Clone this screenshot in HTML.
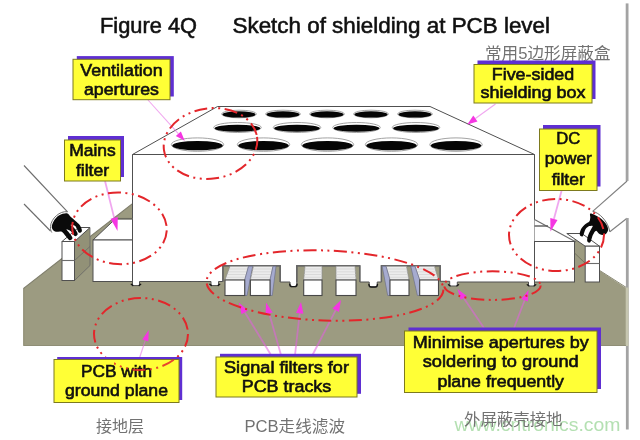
<!DOCTYPE html>
<html lang="en">
<head>
<meta charset="utf-8">
<title>Figure 4Q Sketch of shielding at PCB level</title>
<style>
html,body{margin:0;padding:0;background:#fff;}
body{width:640px;height:440px;overflow:hidden;position:relative;}
svg{display:block;position:absolute;left:0;top:0;filter:blur(.45px);}
.lab{font-family:"Liberation Sans",sans-serif;font-size:16.4px;fill:#101010;stroke:#101010;stroke-width:.6px;text-anchor:middle;}
.title{font-family:"Liberation Sans",sans-serif;font-size:21.5px;fill:#101010;stroke:#101010;stroke-width:.55px;}
.cn{font-family:"Liberation Sans","Noto Sans CJK SC",sans-serif;font-size:16.3px;fill:#727272;}
.wm{font-family:"Liberation Sans",sans-serif;font-size:19px;fill:#b4e0b2;}
.yl{fill:#ffff36;stroke:#7d7a1e;stroke-width:1;}
.sh{fill:#5f2fd2;}
.red{fill:none;stroke:#e3262b;stroke-width:2;stroke-dasharray:13 4.5 2 4.5 2 4.5;stroke-linecap:butt;}
.ml{stroke:#e45fe2;stroke-opacity:.55;stroke-width:1.8;fill:none;}
.mh{fill:#f536e2;stroke:none;}
.gl{stroke:#6c6c6c;stroke-width:1.1;fill:none;}
.bx{fill:#fff;stroke:#505050;stroke-width:1;stroke-linejoin:miter;}
.hole{fill:#050505;}
.rim{fill:#fff;stroke:#8a8a8a;stroke-width:.8;}
.pcb{fill:#9c9b81;}
.blk{fill:#fff;stroke:#484848;stroke-width:1.1;}
.top{fill:#ececec;stroke:#8c8c8c;stroke-width:.7;}
.side{fill:#a6abcf;stroke:#666a88;stroke-width:.6;}
.sol{fill:none;stroke:#161616;stroke-width:1.4;stroke-linecap:round;stroke-linejoin:round;}
</style>
</head>
<body>
<svg width="640" height="440" viewBox="0 0 640 440">
<rect x="0" y="0" width="640" height="440" fill="#fff"/>
<!-- ===== title ===== -->
<text class="title" x="100" y="33" textLength="97" lengthAdjust="spacingAndGlyphs">Figure 4Q</text>
<text class="title" x="232.5" y="33" textLength="317.5" lengthAdjust="spacingAndGlyphs">Sketch of shielding at PCB level</text>
<text class="cn" x="485" y="58.5" textLength="125.5" lengthAdjust="spacingAndGlyphs">常用5边形屏蔽盒</text>
<!-- ===== right wall / cable lines ===== -->
<g id="rightwall">
<path d="M627.100,3.400 V181" stroke="#a3a3a3" stroke-width="2.800" fill="none"/>
<path d="M627.100,181 L592.700,211.400" stroke="#7e7e7e" stroke-width="1.1" fill="none"/>
<path d="M609.800,231.800 L627,218.200" stroke="#7e7e7e" stroke-width="1.1" fill="none"/>
<path d="M627.300,218 V429.500" stroke="#a3a3a3" stroke-width="2.800" fill="none"/>
</g>
<!-- ===== PCB ===== -->
<g id="pcb">
<polygon class="pcb" points="23.3,346 23.3,288.800 132.5,203.800 140,203.800 140,346"/>
<polygon class="pcb" points="132.5,262 574.5,262 574.5,238.5 585.5,245.5 585.5,262 598.6,270 626,288 626,346 132.5,346"/>
<rect x="625.700" y="287.500" width="2.900" height="58.500" fill="#c6c6b0"/>
<path d="M23.300,288.600 L132.500,203.600" fill="none" stroke="#7d7c69" stroke-width="1.200"/>
<path d="M598.600,269.800 L626,287.300" fill="none" stroke="#8a8974" stroke-width="1"/>
<path d="M23.800,288.800 V345.500 H626" fill="none" stroke="#8f8e76" stroke-width="1"/>
</g>
<!-- ===== left cable ===== -->
<g id="leftcable">
<path class="gl" d="M24,165.500 L67.500,211.800"/>
<path class="gl" d="M24,204 L50.500,231"/>
</g>
<!-- ===== shielding box ===== -->
<g id="box">
<polygon class="bx" points="132.5,154.5 217.5,106.5 430,106.5 534.5,154.5"/>
<path class="bx" d="M132.5,154.5 L534.5,154.5 L534.5,286 L528.5,286 L528.5,282 L457.3,282 L457.3,286 L449.7,286 L449.7,281.3 L440.2,281.3 L440.2,265.8 L381.4,265.8 L381.4,282 L377.2,282 L377.2,287 L369.2,287 L369.2,282 L359.8,282 L359.8,265.8 L296.8,265.8 L296.8,286.6 L290,286.6 L290,282 L280.2,282 L280.2,265.8 L222.9,265.8 L222.9,281.5 L218.5,281.5 L218.5,285.6 L211,285.6 L211,281.5 L139.5,281.5 L139.5,285.6 L132.5,285.6 Z"/>
<path class="sol" d="M131.3,284.3 L132.8,285.40000000000003"/><path class="sol" d="M140.7,284.3 L139.2,285.40000000000003"/>
<path class="sol" d="M209.8,284.3 L211.3,285.40000000000003"/><path class="sol" d="M219.7,284.3 L218.2,285.40000000000003"/>
<path class="sol" d="M448.5,284.7 L450.0,285.8"/><path class="sol" d="M458.5,284.7 L457.0,285.8"/>
<path class="sol" d="M527.3,284.7 L528.8,285.8"/><path class="sol" d="M535.7,284.7 L534.2,285.8"/>
<path class="sol" d="M289.7,284.1 Q290,286.6 292.2,286.6 L294.6,286.6 Q296.8,286.6 297.1,284.1"/>
<path class="sol" d="M368.9,284.5 Q369.2,287 371.4,287 L375.0,287 Q377.2,287 377.5,284.5"/>
<path d="M222.900,281.500 V265.800 H280.200 V282 M296.800,282 V265.800 H359.800 V282 M381.400,282 V265.800 H440.200 V281.300" fill="none" stroke="#666" stroke-width="1.500"/>
</g>
<!-- ===== ventilation holes ===== -->
<g id="holes">
<ellipse class="rim" cx="239" cy="114" rx="17.5" ry="3.8"/><ellipse class="hole" cx="239" cy="114.45" rx="16.6" ry="3.10"/>
<ellipse class="rim" cx="283" cy="114" rx="17.5" ry="3.8"/><ellipse class="hole" cx="283" cy="114.45" rx="16.6" ry="3.10"/>
<ellipse class="rim" cx="327" cy="114" rx="17.5" ry="3.8"/><ellipse class="hole" cx="327" cy="114.45" rx="16.6" ry="3.10"/>
<ellipse class="rim" cx="371" cy="114" rx="17.5" ry="3.8"/><ellipse class="hole" cx="371" cy="114.45" rx="16.6" ry="3.10"/>
<ellipse class="rim" cx="415" cy="114" rx="17.5" ry="3.8"/><ellipse class="hole" cx="415" cy="114.45" rx="16.6" ry="3.10"/>
<ellipse class="rim" cx="237.5" cy="127.5" rx="23.75" ry="5"/><ellipse class="hole" cx="237.5" cy="128.25" rx="22.85" ry="3.60"/>
<ellipse class="rim" cx="297" cy="127.5" rx="23.75" ry="5"/><ellipse class="hole" cx="297" cy="128.25" rx="22.85" ry="3.60"/>
<ellipse class="rim" cx="356.5" cy="127.5" rx="23.75" ry="5"/><ellipse class="hole" cx="356.5" cy="128.25" rx="22.85" ry="3.60"/>
<ellipse class="rim" cx="416" cy="127.5" rx="23.75" ry="5"/><ellipse class="hole" cx="416" cy="128.25" rx="22.85" ry="3.60"/>
<ellipse class="rim" cx="197.5" cy="144.6" rx="26.2" ry="6.7"/><ellipse class="hole" cx="197.5" cy="145.60" rx="25.3" ry="4.70"/>
<ellipse class="rim" cx="263.5" cy="144.6" rx="26.2" ry="6.7"/><ellipse class="hole" cx="263.5" cy="145.60" rx="25.3" ry="4.70"/>
<ellipse class="rim" cx="327.5" cy="144.6" rx="26.2" ry="6.7"/><ellipse class="hole" cx="327.5" cy="145.60" rx="25.3" ry="4.70"/>
<ellipse class="rim" cx="391.5" cy="144.6" rx="26.2" ry="6.7"/><ellipse class="hole" cx="391.5" cy="145.60" rx="25.3" ry="4.70"/>
<ellipse class="rim" cx="456" cy="144.6" rx="26.2" ry="6.7"/><ellipse class="hole" cx="456" cy="145.60" rx="25.3" ry="4.70"/>
</g>
<!-- ===== signal filter blocks ===== -->
<g id="filters">
<polygon class="top" points="225,280 230,266.3 248.5,266.3 244.7,280"/><line x1="229.0" y1="269.0" x2="247.7" y2="269.0" stroke="#cfcfcf" stroke-width=".6"/><line x1="228.0" y1="271.8" x2="247.0" y2="271.8" stroke="#cfcfcf" stroke-width=".6"/><line x1="227.0" y1="274.5" x2="246.2" y2="274.5" stroke="#cfcfcf" stroke-width=".6"/><line x1="226.0" y1="277.3" x2="245.5" y2="277.3" stroke="#cfcfcf" stroke-width=".6"/><polygon class="side" points="244.7,280 248.5,266.3 252.7,266.3 247.0,295.5 244.7,295.5"/><rect class="blk" x="225" y="280" width="19.69999999999999" height="15.5"/>
<polygon class="top" points="250.4,280 253.4,266.3 273,266.3 270,280"/><line x1="252.8" y1="269.0" x2="272.4" y2="269.0" stroke="#cfcfcf" stroke-width=".6"/><line x1="252.2" y1="271.8" x2="271.8" y2="271.8" stroke="#cfcfcf" stroke-width=".6"/><line x1="251.6" y1="274.5" x2="271.2" y2="274.5" stroke="#cfcfcf" stroke-width=".6"/><line x1="251.0" y1="277.3" x2="270.6" y2="277.3" stroke="#cfcfcf" stroke-width=".6"/><polygon class="side" points="270,280 273,266.3 276,266.3 272.3,295.5 270,295.5"/><rect class="blk" x="250.4" y="280" width="19.599999999999994" height="15.5"/>
<polygon class="top" points="303.7,280 305,266.3 322,266.3 322,280"/><line x1="304.7" y1="269.0" x2="322.0" y2="269.0" stroke="#cfcfcf" stroke-width=".6"/><line x1="304.5" y1="271.8" x2="322.0" y2="271.8" stroke="#cfcfcf" stroke-width=".6"/><line x1="304.2" y1="274.5" x2="322.0" y2="274.5" stroke="#cfcfcf" stroke-width=".6"/><line x1="304.0" y1="277.3" x2="322.0" y2="277.3" stroke="#cfcfcf" stroke-width=".6"/><rect class="blk" x="303.7" y="280" width="18.30000000000001" height="15.5"/>
<polygon class="top" points="336,280 336,266.3 355,266.3 356,280"/><line x1="336.0" y1="269.0" x2="355.2" y2="269.0" stroke="#cfcfcf" stroke-width=".6"/><line x1="336.0" y1="271.8" x2="355.4" y2="271.8" stroke="#cfcfcf" stroke-width=".6"/><line x1="336.0" y1="274.5" x2="355.6" y2="274.5" stroke="#cfcfcf" stroke-width=".6"/><line x1="336.0" y1="277.3" x2="355.8" y2="277.3" stroke="#cfcfcf" stroke-width=".6"/><rect class="blk" x="336" y="280" width="20" height="15.5"/>
<polygon class="top" points="390,280 386,266.3 406.5,266.3 409,280"/><line x1="386.8" y1="269.0" x2="407.0" y2="269.0" stroke="#cfcfcf" stroke-width=".6"/><line x1="387.6" y1="271.8" x2="407.5" y2="271.8" stroke="#cfcfcf" stroke-width=".6"/><line x1="388.4" y1="274.5" x2="408.0" y2="274.5" stroke="#cfcfcf" stroke-width=".6"/><line x1="389.2" y1="277.3" x2="408.5" y2="277.3" stroke="#cfcfcf" stroke-width=".6"/><polygon class="side" points="390,280 386,266.3 382.2,266.3 387.7,295.5 390,295.5"/><rect class="blk" x="390" y="280" width="19" height="15.5"/>
<polygon class="top" points="419.7,280 415,266.3 434.5,266.3 438.5,280"/><line x1="415.9" y1="269.0" x2="435.3" y2="269.0" stroke="#cfcfcf" stroke-width=".6"/><line x1="416.9" y1="271.8" x2="436.1" y2="271.8" stroke="#cfcfcf" stroke-width=".6"/><line x1="417.8" y1="274.5" x2="436.9" y2="274.5" stroke="#cfcfcf" stroke-width=".6"/><line x1="418.8" y1="277.3" x2="437.7" y2="277.3" stroke="#cfcfcf" stroke-width=".6"/><polygon class="side" points="419.7,280 415,266.3 410.8,266.3 417.4,295.5 419.7,295.5"/><rect class="blk" x="419.7" y="280" width="18.80000000000001" height="15.5"/>
</g>
<!-- ===== mains filter (left) ===== -->
<g id="mains">
<polygon class="bx" points="93,240 115.5,218.75 132.5,218.75 132.5,240"/>
<line x1="115" y1="218.750" x2="132.500" y2="218.750" stroke="#6a6a5e" stroke-width="1.600"/>
<rect class="bx" x="93" y="240" width="39.5" height="41.5"/>
<!-- connector block -->
<polygon points="74.5,241.5 90,227.5 90,265.5 74.5,280.5" fill="#929177" stroke="#666" stroke-width=".8"/>
<polygon class="bx" points="62,241.5 78.5,227.5 90,227.5 74.5,241.5"/>
<rect class="bx" x="62" y="241.5" width="12.5" height="39"/>
<line class="gl" x1="62" y1="260.5" x2="74.5" y2="260.5"/>
<line x1="74.5" y1="260.5" x2="90" y2="246.500" stroke="#666" stroke-width=".7"/>
<!-- cable end -->
<path d="M67.5,211.8 C60,210.5 51,218.500 50.500,226.500 C50.300,229 50.800,231 51.800,232.500" fill="none" stroke="#6f6f6f" stroke-width="1"/>
<path d="M66.8,213.2 C64.9,212.9 61.4,213.9 59.3,215.2 C57.1,216.4 55.1,218.6 53.9,220.700 C52.6,222.8 51.6,225.700 51.8,227.500 C52.0,229.3 53.6,230.9 55.2,231.6 C56.8,232.3 59.6,230.9 61.3,231.6 C63.0,232.3 64.0,234.3 65.4,235.700 C66.8,237.1 68.3,239.8 69.5,240.2 C70.700,240.6 72.5,239.2 72.5,238.0 C72.5,236.8 70.3,234.3 69.3,232.9 C68.3,231.5 66.2,229.6 66.5,229.3 C66.8,229.0 69.5,230.2 70.9,231.3 C72.3,232.4 73.6,235.700 74.700,236.1 C75.8,236.5 77.700,235.2 77.700,233.9 C77.700,232.6 75.8,229.9 74.6,228.4 C73.4,226.9 70.5,225.4 70.6,225.0 C70.700,224.6 73.8,224.8 75.2,226.1 C76.6,227.3 77.700,231.700 78.8,232.5 C79.9,233.3 81.700,232.1 81.9,230.9 C82.1,229.700 81.0,226.9 79.9,225.2 C78.8,223.5 76.700,222.1 75.2,220.700 C73.700,219.3 72.3,218.2 70.9,217.0 C69.5,215.8 68.700,213.5 66.8,213.2 Z" fill="#0a0a0a"/>
</g>

<!-- ===== DC power filter (right) ===== -->
<g id="dc">
<polygon points="534.5,219.5 575,241.5 534.5,241.5" fill="#fff"/>
<line class="gl" x1="534.5" y1="219.500" x2="576" y2="242"/>
<line x1="534.5" y1="226" x2="548" y2="226" stroke="#5a5a5a" stroke-width="1.400"/>
<rect class="bx" x="534.5" y="241.5" width="40" height="40.5"/>
<line x1="574.5" y1="253" x2="585.5" y2="263.500" stroke="#6b6a55" stroke-width=".8"/>
<polygon class="bx" points="566.8,233.5 581.8,233.5 599.5,246.2 585.2,246.2"/>
<rect class="bx" x="585.2" y="246.2" width="14.3" height="35.8"/>
<line class="gl" x1="585.2" y1="263.5" x2="599.5" y2="263.5"/>
<!-- cable end -->
<path d="M592.700,211.400 C599,212.500 608,221 609.800,231.800" fill="none" stroke="#6f6f6f" stroke-width="1"/>
<path d="M590.700,213.4 C592.2,213.4 596.9,215.700 599.5,217.5 C602.1,219.3 604.9,222.2 606.3,224.3 C607.700,226.5 608.3,228.700 608.0,230.4 C607.700,232.2 605.700,234.2 604.3,234.8 C602.9,235.4 600.9,234.8 599.5,234.1 C598.1,233.4 597.2,230.6 596.1,230.700 C595.0,230.8 594.0,232.9 593.0,234.8 C592.0,236.700 591.2,241.2 590.3,242.3 C589.3,243.4 587.700,242.4 587.3,241.3 C586.9,240.2 587.3,237.8 587.9,235.9 C588.5,234.0 589.9,231.6 590.700,230.0 C591.5,228.4 592.9,226.8 592.700,226.1 C592.5,225.4 590.5,225.6 589.3,226.1 C588.1,226.6 586.6,227.6 585.5,229.3 C584.4,231.0 583.8,235.3 582.8,236.2 C581.8,237.1 580.1,236.0 579.8,234.8 C579.5,233.6 580.2,230.8 581.1,229.1 C582.0,227.3 583.8,225.6 585.2,224.3 C586.6,223.1 588.4,222.700 589.3,221.6 C590.1,220.5 590.1,218.9 590.3,217.5 C590.5,216.1 589.2,213.4 590.700,213.4 Z" fill="#0a0a0a"/>
</g>
<!-- ===== magenta arrows ===== -->
<g id="arrows">
<line class="ml" style="stroke-width:1.1" x1="148" y1="100" x2="178.3" y2="133.7"/><polygon class="mh" points="184.7,140.8 175.8,136.0 180.9,131.5"/>
<line class="ml" style="stroke-width:1.1" x1="495.5" y1="104" x2="475.4" y2="118.5"/><polygon class="mh" points="467.3,124.4 473.3,115.6 477.5,121.5"/>
<line class="ml" x1="105" y1="181" x2="114.2" y2="217.9"/><polygon class="mh" points="117.5,231 110.6,218.8 117.8,217.0"/>
<line class="ml" x1="561.5" y1="191" x2="553.9" y2="219.0"/><polygon class="mh" points="550.5,231.5 550.3,218.0 557.5,219.9"/>
<line class="ml" style="stroke-width:1.2" x1="139.5" y1="358" x2="145.3" y2="340.4"/><polygon class="mh" points="148.75,330 148.3,341.4 142.3,339.4"/>
<line class="ml" x1="271" y1="355" x2="244.8" y2="312.3"/><polygon class="mh" points="238.75,302.5 247.9,310.4 241.6,314.2"/>
<line class="ml" x1="281" y1="355" x2="269.2" y2="313.6"/><polygon class="mh" points="266,302.5 272.7,312.5 265.6,314.6"/>
<line class="ml" x1="295" y1="355" x2="299.7" y2="313.4"/><polygon class="mh" points="301,302 303.4,313.8 296.0,313.0"/>
<line class="ml" x1="312.5" y1="355" x2="335.7" y2="310.2"/><polygon class="mh" points="341,300 339.0,311.9 332.4,308.5"/>
<line class="ml" x1="484" y1="328" x2="463.7" y2="298.1"/><polygon class="mh" points="457.5,289 466.7,296.1 460.7,300.1"/>
<line class="ml" x1="514" y1="328" x2="524.6" y2="300.3"/><polygon class="mh" points="528.5,290 527.9,301.6 521.2,299.0"/>
</g>
<ellipse class="red" cx="141" cy="334" rx="47" ry="36"/>
<!-- ===== yellow labels ===== -->
<g id="labels">
<rect class="sh" x="76.8" y="56.099999999999994" width="97" height="40.400000000000006"/><rect class="yl" x="73" y="59.3" width="97" height="40.400000000000006"/>
<text class="lab" x="121.5" y="75.75" textLength="82.3" lengthAdjust="spacingAndGlyphs">Ventilation</text>
<text class="lab" x="121.5" y="95.2" textLength="75" lengthAdjust="spacingAndGlyphs">apertures</text>
<rect class="sh" x="477.5" y="60.5" width="118" height="38.5"/><rect class="yl" x="474" y="64.5" width="118" height="38.5"/>
<text class="lab" x="533.0" y="79.5" textLength="82.5" lengthAdjust="spacingAndGlyphs">Five-sided</text>
<text class="lab" x="533.0" y="98" textLength="105" lengthAdjust="spacingAndGlyphs">shielding box</text>
<rect class="sh" x="68.0" y="136" width="56.0" height="41"/><rect class="yl" x="64.5" y="140" width="56.0" height="41"/>
<text class="lab" x="92.5" y="156.1" textLength="46.6" lengthAdjust="spacingAndGlyphs">Mains</text>
<text class="lab" x="92.5" y="175.8" textLength="33.2" lengthAdjust="spacingAndGlyphs">filter</text>
<rect class="sh" x="543.0" y="125" width="57.5" height="61.5"/><rect class="yl" x="539.5" y="129" width="57.5" height="61.5"/>
<text class="lab" x="568.25" y="144.2" textLength="24" lengthAdjust="spacingAndGlyphs">DC</text>
<text class="lab" x="568.25" y="164.3" textLength="47" lengthAdjust="spacingAndGlyphs">power</text>
<text class="lab" x="568.25" y="184.8" textLength="33.2" lengthAdjust="spacingAndGlyphs">filter</text>
<rect class="sh" x="57.2" y="357.0" width="125" height="43.0"/><rect class="yl" x="54" y="359.5" width="125" height="43.0"/>
<text class="lab" x="116.5" y="376.6" textLength="71" lengthAdjust="spacingAndGlyphs">PCB with</text>
<text class="lab" x="116.5" y="396.2" textLength="103" lengthAdjust="spacingAndGlyphs">ground plane</text>
<rect class="sh" x="220" y="353.8" width="141" height="40"/><rect class="yl" x="216" y="357" width="141" height="40"/>
<text class="lab" x="286.5" y="372.5" textLength="125" lengthAdjust="spacingAndGlyphs">Signal filters for</text>
<text class="lab" x="286.5" y="391.7" textLength="89.5" lengthAdjust="spacingAndGlyphs">PCB tracks</text>
<rect class="sh" x="408.5" y="327.5" width="192.5" height="61.5"/><rect class="yl" x="404.5" y="331" width="192.5" height="61.5"/>
<text class="lab" x="500.75" y="348" textLength="176" lengthAdjust="spacingAndGlyphs">Minimise apertures by</text>
<text class="lab" x="500.75" y="367" textLength="156" lengthAdjust="spacingAndGlyphs">soldering to ground</text>
<text class="lab" x="500.75" y="386.6" textLength="126.5" lengthAdjust="spacingAndGlyphs">plane frequently</text>
</g>
<!-- ===== red dash-dot ellipses ===== -->
<g id="ellipses">
<ellipse class="red" cx="210.5" cy="143.5" rx="47" ry="35.2" transform="rotate(-8 210.5 143.5)"/>
<ellipse class="red" cx="119.5" cy="228.3" rx="47.3" ry="35.8" transform="rotate(3 119.5 228.3)"/>
<ellipse class="red" cx="325" cy="285.5" rx="118.5" ry="35" transform="rotate(2 325 285.5)"/>
<ellipse class="red" cx="492.4" cy="285.6" rx="48.3" ry="14.3"/>
<ellipse class="red" cx="556.5" cy="235" rx="47.5" ry="36"/>
<clipPath id="cpw"><rect x="114" y="358" width="62" height="15"/></clipPath>
<ellipse class="red" cx="141" cy="334" rx="47" ry="36" clip-path="url(#cpw)" opacity=".85"/>
</g>
<!-- ===== chinese captions & watermark ===== -->
<g id="captions">
<text class="wm" x="454.500" y="431" textLength="166" lengthAdjust="spacingAndGlyphs">www.cntronics.com</text>
<text class="cn" x="96" y="432" textLength="48" lengthAdjust="spacingAndGlyphs">接地层</text>
<text class="cn" x="244.5" y="432" textLength="100.5" lengthAdjust="spacingAndGlyphs">PCB走线滤波</text>
<text class="cn" x="464" y="425" textLength="98.5" lengthAdjust="spacingAndGlyphs">外屏蔽壳接地</text>
</g>
</svg>
</body>
</html>
